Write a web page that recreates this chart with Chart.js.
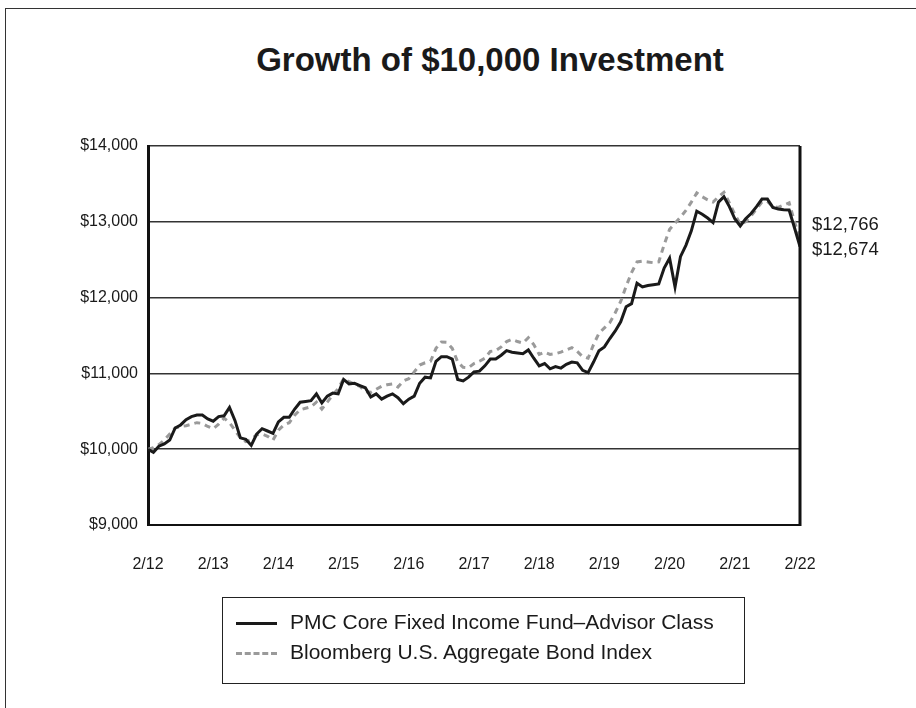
<!DOCTYPE html>
<html>
<head>
<meta charset="utf-8">
<script src="https://cdn.jsdelivr.net/npm/chart.js@4.4.1/dist/chart.umd.min.js"></script>
<style>
  body { margin: 0; background: #fff; font-family: "Liberation Sans", Arial, sans-serif; color: #1a1a1a; }
  #wrap { position: relative; width: 916px; height: 708px; overflow: hidden; }
  #frame { position: absolute; left: 5px; top: 8px; width: 920px; height: 710px; border-left: 1.5px solid #333; border-top: 1.5px solid #333; }
  #title { position: absolute; left: 0; width: 980px; top: 41px; text-align: center; font-size: 33px; font-weight: bold; }
  #growthChart { position: absolute; left: 0; top: 0; }
  #legend { position: absolute; left: 222px; top: 597px; width: 523px; height: 87px; border: 1.5px solid #222; box-sizing: border-box; padding-top: 9px; }
  .item { height: 30px; line-height: 30px; font-size: 21px; white-space: nowrap; }
  .swatch { display: inline-block; width: 41px; margin: 0 13px 0 13px; vertical-align: middle; border-top-width: 3px; }
</style>
</head>
<body>
<div id="wrap">
  <div id="frame"></div>
  <div id="title">Growth of $10,000 Investment</div>
  <canvas id="growthChart" width="916" height="708"></canvas>
  <div id="legend"></div>
</div>
<script>
// month-end values, 2/12 .. 2/22
const fundName = 'PMC Core Fixed Income Fund\u2013Advisor Class'
const indexName = 'Bloomberg U.S. Aggregate Bond Index'
const yearLabels = ['2/12', '2/13', '2/14', '2/15', '2/16', '2/17', '2/18', '2/19', '2/20', '2/21', '2/22']

const fundValues = [
  10000, 9960, 10040, 10070, 10120, 10280, 10320, 10390, 10430, 10450,
  10450, 10400, 10370, 10430, 10440, 10550, 10380, 10150, 10130, 10050,
  10200, 10270, 10240, 10210, 10360, 10420, 10420, 10530, 10620, 10630,
  10640, 10730, 10610, 10700, 10740, 10730, 10920, 10860, 10870, 10840,
  10810, 10690, 10730, 10660, 10700, 10730, 10680, 10600, 10660, 10700,
  10870, 10950, 10940, 11160, 11220, 11220, 11190, 10920, 10900, 10950,
  11020, 11030, 11100, 11190, 11190, 11240, 11300, 11280, 11270, 11260,
  11310, 11200, 11100, 11130, 11060, 11090, 11070, 11120, 11150, 11140,
  11040, 11010, 11150, 11300, 11350, 11460, 11560, 11680, 11880, 11920,
  12190, 12140, 12160, 12170, 12180, 12390, 12520, 12140, 12540, 12690,
  12880, 13140, 13100, 13050, 12990, 13260, 13330, 13200, 13040, 12945,
  13040, 13110, 13200, 13300, 13300, 13190, 13170, 13160, 13156, 12918,
  12674
]

const indexValues = [
  10000, 10020, 10060, 10120, 10200, 10280, 10300, 10310, 10330, 10350,
  10340, 10300, 10270, 10330, 10410, 10350, 10250, 10150, 10100, 10130,
  10190, 10200, 10170, 10120, 10250, 10320, 10350, 10450, 10520, 10540,
  10560, 10620, 10530, 10620, 10716, 10800, 10927, 10890, 10860, 10830,
  10760, 10750, 10790, 10830, 10850, 10860, 10820, 10900, 10930, 11020,
  11110, 11140, 11160, 11330, 11415, 11410, 11330, 11150, 11080, 11075,
  11130, 11160, 11200, 11290, 11300, 11350, 11420, 11450, 11420, 11400,
  11470, 11380, 11250, 11280, 11250, 11260, 11280, 11310, 11340, 11290,
  11220, 11200, 11380, 11530, 11600, 11670, 11800, 11950, 12150, 12330,
  12470, 12480, 12470, 12460, 12470, 12700, 12900, 12980, 13060, 13150,
  13260, 13380, 13330, 13290, 13260, 13330, 13390, 13250, 13100, 12970,
  13000, 13080, 13170, 13260, 13270, 13200, 13190, 13220, 13250, 13000,
  12766
]

const fontFamily = '"Liberation Sans", Arial, sans-serif'
const money = (v) => '$' + v.toLocaleString('en-US')
const toPoints = (values) => values.map((v, i) => ({ x: i, y: v }))

// ending values printed to the right of the plot
const endLabels = {
  id: 'endLabels',
  afterDraw(chart) {
    const { ctx, chartArea, scales } = chart
    ctx.save()
    // heavy right edge of the plot
    ctx.strokeStyle = '#111'
    ctx.lineWidth = 3
    ctx.beginPath()
    ctx.moveTo(chartArea.right, chartArea.top)
    ctx.lineTo(chartArea.right, chartArea.bottom + 1)
    ctx.stroke()

    ctx.font = '18.5px ' + fontFamily
    ctx.fillStyle = '#1a1a1a'
    ctx.textBaseline = 'middle'
    const x = chartArea.right + 12
    const lastIndex = indexValues[indexValues.length - 1]
    const lastFund = fundValues[fundValues.length - 1]
    ctx.fillText(money(lastIndex), x, scales.y.getPixelForValue(lastIndex) - 15)
    ctx.fillText(money(lastFund), x, scales.y.getPixelForValue(lastFund) + 3)
    ctx.restore()
  }
}

const chart = new Chart(document.getElementById('growthChart'), {
  type: 'line',
  data: {
    datasets: [
      {
        label: fundName,
        data: toPoints(fundValues),
        borderColor: '#1a1a1a',
        borderWidth: 3,
        pointRadius: 0,
        tension: 0
      },
      {
        label: indexName,
        data: toPoints(indexValues),
        borderColor: '#9a9a9a',
        borderWidth: 3,
        borderDash: [6, 5],
        pointRadius: 0,
        tension: 0
      }
    ]
  },
  options: {
    responsive: false,
    animation: false,
    layout: { padding: { top: 146, right: 116, bottom: 0, left: 0 } },
    plugins: {
      legend: { display: false },
      title: { display: false },
      tooltip: { enabled: false }
    },
    scales: {
      x: {
        type: 'linear',
        min: 0,
        max: 120,
        afterFit: (s) => { s.height = 183 },
        grid: { display: false, drawTicks: false },
        border: { display: true, color: '#111', width: 2 },
        ticks: {
          stepSize: 12,
          autoSkip: false,
          maxRotation: 0,
          padding: 30,
          color: '#1a1a1a',
          font: { family: fontFamily, size: 16 },
          callback: (v) => yearLabels[v / 12]
        }
      },
      y: {
        min: 9000,
        max: 14000,
        afterFit: (s) => { s.width = 148 },
        grid: { color: '#333', lineWidth: 1.5, drawTicks: false },
        border: { display: true, color: '#111', width: 3 },
        ticks: {
          stepSize: 1000,
          padding: 10,
          color: '#1a1a1a',
          font: { family: fontFamily, size: 16 },
          callback: (v) => money(v)
        }
      }
    }
  },
  plugins: [endLabels]
})

// boxed legend under the chart, built from the datasets
const legend = document.getElementById('legend')
chart.data.datasets.forEach((ds) => {
  const row = document.createElement('div')
  row.className = 'item'
  const sw = document.createElement('span')
  sw.className = 'swatch'
  sw.style.borderTopStyle = ds.borderDash ? 'dashed' : 'solid'
  sw.style.borderTopColor = ds.borderColor
  row.appendChild(sw)
  row.appendChild(document.createTextNode(ds.label))
  legend.appendChild(row)
})
</script>
</body>
</html>
